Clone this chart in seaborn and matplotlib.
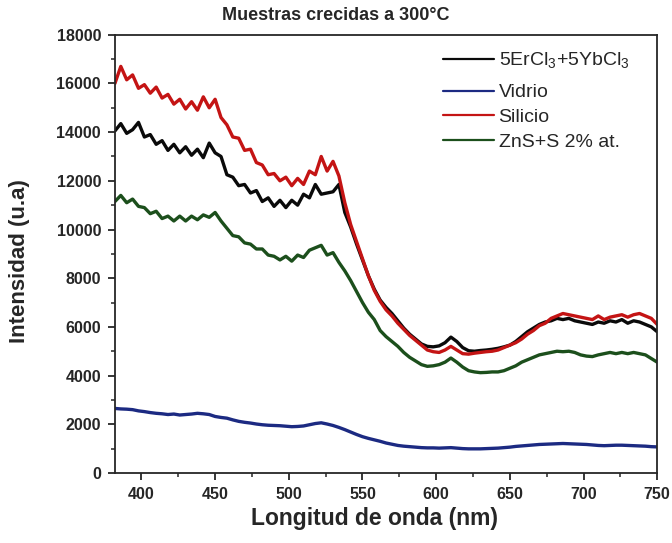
import numpy as np
import pandas as pd
import matplotlib
matplotlib.use("Agg")
import matplotlib.pyplot as plt
from matplotlib.ticker import MultipleLocator
from matplotlib.lines import Line2D
import seaborn as sns

# Wavelength grid (nm)
wavelength = np.arange(382, 751, 4)

silicio = [16000, 16700, 16150, 16350, 15800, 15950, 15600, 15850, 15400, 15550,
           15150, 15350, 14950, 15250, 14900, 15450, 15000, 15350, 14600, 14300,
           13800, 13750, 13250, 13300, 12750, 12650, 12250, 12300, 12000, 12150,
           11800, 12100, 11850, 12400, 12250, 13000, 12400, 12800, 12200, 11100,
           10200, 9500, 8800, 8100, 7500, 7050, 6700, 6450, 6150, 5900,
           5650, 5450, 5250, 5050, 4980, 4950, 5050, 5200, 5050, 4900,
           4880, 4920, 4950, 4980, 5000, 5050, 5150, 5250, 5350, 5500,
           5700, 5850, 6050, 6150, 6350, 6450, 6550, 6500, 6450, 6400,
           6350, 6300, 6450, 6300, 6400, 6450, 6500, 6400, 6500, 6550,
           6450, 6350, 6100]

er_yb = [14050, 14350, 13950, 14100, 14400, 13800, 13900, 13500, 13650, 13250,
         13500, 13150, 13400, 13050, 13300, 12950, 13550, 13150, 13000, 12250,
         12150, 11800, 11850, 11500, 11600, 11150, 11300, 10950, 11200, 10900,
         11200, 11000, 11450, 11300, 11850, 11450, 11500, 11550, 11850, 10700,
         10100, 9400, 8750, 8100, 7550, 7100, 6800, 6550, 6250, 5950,
         5700, 5500, 5300, 5200, 5180, 5220, 5350, 5580, 5400, 5150,
         5020, 5000, 5030, 5050, 5080, 5120, 5180, 5250, 5400, 5600,
         5800, 5950, 6100, 6200, 6250, 6350, 6300, 6350, 6250, 6200,
         6150, 6100, 6200, 6150, 6250, 6200, 6300, 6150, 6250, 6200,
         6100, 6000, 5800]

zns = [11150, 11400, 11100, 11250, 10950, 10900, 10650, 10750, 10450, 10550,
       10350, 10550, 10350, 10550, 10400, 10600, 10500, 10700, 10350, 10050,
       9750, 9700, 9450, 9400, 9200, 9200, 8950, 8900, 8750, 8900,
       8700, 8950, 8850, 9150, 9250, 9350, 8950, 9050, 8650, 8300,
       7900, 7450, 7000, 6600, 6300, 5850, 5600, 5400, 5200, 4950,
       4750, 4600, 4450, 4380, 4400, 4450, 4550, 4720, 4550, 4350,
       4200, 4150, 4120, 4130, 4150, 4150, 4200, 4300, 4400, 4550,
       4650, 4750, 4850, 4900, 4950, 5000, 4980, 5000, 4950, 4850,
       4800, 4780, 4850, 4900, 4950, 4900, 4950, 4900, 4950, 4900,
       4850, 4700, 4550]

vidrio = [2650, 2630, 2620, 2600, 2550, 2520, 2480, 2450, 2430, 2400,
          2420, 2380, 2400, 2420, 2450, 2430, 2400, 2320, 2280, 2250,
          2180, 2120, 2080, 2050, 2010, 1980, 1960, 1950, 1940, 1920,
          1900, 1910, 1930, 1980, 2030, 2060, 2010, 1950, 1870, 1780,
          1680, 1580, 1490, 1420, 1360, 1300, 1230, 1180, 1130, 1100,
          1080, 1060, 1040, 1030, 1030, 1020, 1030, 1040, 1020, 1000,
          990, 990, 990, 1000, 1010, 1020, 1040, 1060, 1090, 1110,
          1130, 1150, 1170, 1180, 1190, 1200, 1210, 1200, 1190, 1180,
          1170, 1150, 1130, 1120, 1130, 1140, 1140, 1130, 1120, 1110,
          1100, 1080, 1070]

labels = [r"5ErCl$_\mathregular{3}$+5YbCl$_\mathregular{3}$", "Vidrio", "Silicio", "ZnS+S 2% at."]
series = [er_yb, vidrio, silicio, zns]
colors = ["#0a0a0a", "#1c2a82", "#c41414", "#1c4f1c"]
palette = dict(zip(labels, colors))

df = pd.concat(
    [pd.DataFrame({"wl": wavelength, "I": vals, "muestra": lab}) for lab, vals in zip(labels, series)],
    ignore_index=True,
)

sns.set_style("ticks")
plt.rcParams["font.family"] = ["Liberation Sans", "DejaVu Sans"]
plt.rcParams["mathtext.fontset"] = "custom"
plt.rcParams["mathtext.rm"] = "Liberation Sans"

fig = plt.figure(figsize=(6.72, 5.43), dpi=100)
ax = fig.add_axes([0.171, 0.129, 0.807, 0.807])

sns.lineplot(data=df, x="wl", y="I", hue="muestra", hue_order=labels,
             palette=palette, linewidth=2.4, legend=False, ax=ax)

ax.set_xlim(382, 750)
ax.set_ylim(0, 18000)
ax.xaxis.set_major_locator(MultipleLocator(50))
ax.xaxis.set_minor_locator(MultipleLocator(25))
ax.yaxis.set_major_locator(MultipleLocator(2000))
ax.yaxis.set_minor_locator(MultipleLocator(1000))
ax.tick_params(which="major", direction="out", length=5, width=1.3, pad=5)
ax.tick_params(which="minor", direction="out", length=3, width=1.1)
for lab in ax.get_xticklabels() + ax.get_yticklabels():
    lab.set_fontweight("bold")
    lab.set_fontsize(11.5)
for sp in ax.spines.values():
    sp.set_linewidth(1.3)
    sp.set_visible(True)

ax.set_xlabel("Longitud de onda (nm)", fontsize=16.5, fontweight="bold")
ax.set_ylabel("Intensidad (u.a)", fontsize=16, fontweight="bold")
ax.xaxis.set_label_coords(0.478, -0.078)
ax.yaxis.set_label_coords(-0.157, 0.484)
fig.suptitle("Muestras crecidas a 300°C", x=0.5, y=0.972, va="center",
             fontsize=13, fontweight="bold")

# Legend: first entry (taller because of the subscripts) and the remaining three
handles = {lab: Line2D([], [], color=palette[lab], linewidth=1.6) for lab in labels}
leg_kw = dict(frameon=False, fontsize=14, handlelength=2.6, handletextpad=0.26,
              borderpad=0, borderaxespad=0, loc="center left")
leg1 = ax.legend([handles[labels[0]]], [labels[0]], labelspacing=0.15,
                 bbox_to_anchor=(0.605, 0.94), **leg_kw)
ax.add_artist(leg1)
ax.legend([handles[l] for l in labels[1:]], labels[1:], labelspacing=0.36,
          bbox_to_anchor=(0.605, 0.812), **leg_kw)

fig.savefig("out.png", dpi=100)
